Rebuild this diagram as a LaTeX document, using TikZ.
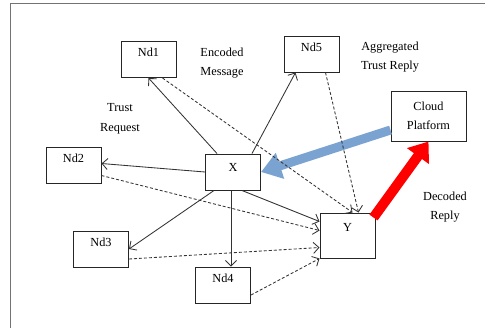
\documentclass[tikz,border=0pt]{standalone}
\usepackage{fontspec}
\setmainfont{Liberation Serif}
\usetikzlibrary{arrows.meta}

\definecolor{cloudblue}{RGB}{123,163,209}
\tikzset{
	nd/.style={draw=black!85, line width=1bp, fill=white, minimum width=55bp,
		inner ysep=3bp, text height=12bp, text depth=18bp},
	req/.style={draw=black!80, line width=0.85bp, -{Straight Barb[length=5.5bp,width=11bp]}},
	rep/.style={req, dash pattern=on 3bp off 2bp},
	lbl/.style={align=center, inner sep=0pt},
}

\begin{document}
\begin{tikzpicture}[x=1bp, y=-1bp, font=\fontsize{12.3bp}{19.5bp}\selectfont]
	\useasboundingbox (0,0) rectangle (485,328);
	\draw[black!55, line width=1.3bp] (10.5,328) -- (10.5,3.7) -- (485,3.7);

		\node[nd] (nd1) at (148.5,59.5) {Nd1};
		\node[nd] (nd5) at (311.5,54) {Nd5};
		\node[nd] (nd2) at (73.5,165.5) {Nd2};
		\node[nd] (nd3) at (101,249) {Nd3};
		\node[nd] (nd4) at (223,285) {Nd4};
		\node[nd, text height=14bp, text depth=16bp] (x) at (233,172) {X};
		\node[nd, text height=15bp, text depth=24bp] (y) at (347.5,235.5) {Y};
		\node[nd, minimum width=75bp, minimum height=50bp, align=center,
			text height=, text depth=] (cloud) at (428.5,116) {Cloud\\Platform};

		\node[lbl] (enc) at (222,63) {Encoded\\Message};
		\node[lbl] (agg) at (390,57) {Aggregated\\Trust Reply};
		\node[lbl] (treq) at (120,119) {Trust\\Request};
		\node[lbl] (dec) at (445,207) {Decoded\\Reply};

	% cloud exchange
		\draw[cloudblue, line width=9bp, -{Triangle[length=20bp,width=26bp]}]
			([yshift=-14bp]cloud.west) -- (x.east);
		\draw[red, line width=10bp, -{Triangle[length=18bp,width=26bp]}]
			([xshift=-2bp,yshift=-5bp]y.north east) -- (cloud.south);

	% trust requests from X
		\draw[req] ([xshift=12bp]x.north west) -- (nd1.south);
		\draw[req] ([xshift=-9bp]x.north east) -- ([xshift=12bp]nd5.south west);
		\draw[req] (x.west) -- ([yshift=2bp]nd2.east);
		\draw[req] ([xshift=9bp]x.south west) -- (nd3.east);
		\draw[req] ([xshift=-2bp]x.south) -- ([xshift=-2bp]x.south |- nd4.north);
		\draw[req] ([xshift=9bp]x.south) -- ([yshift=-9bp]y.north west);

	% replies to Y
		\draw[rep] ([xshift=14bp]nd1.south) -- ([xshift=5bp]y.north);
		\draw[rep] ([xshift=-14bp]nd5.south east) -- ([xshift=11bp]y.north);
		\draw[rep] ([yshift=-10bp]nd2.east) -- ([yshift=5bp]y.west);
		\draw[rep] ([yshift=-10bp]nd3.east) -- ([yshift=-12bp]y.west);
		\draw[rep] ([yshift=-10bp]nd4.east) -- (y.south west);
\end{tikzpicture}
\end{document}
